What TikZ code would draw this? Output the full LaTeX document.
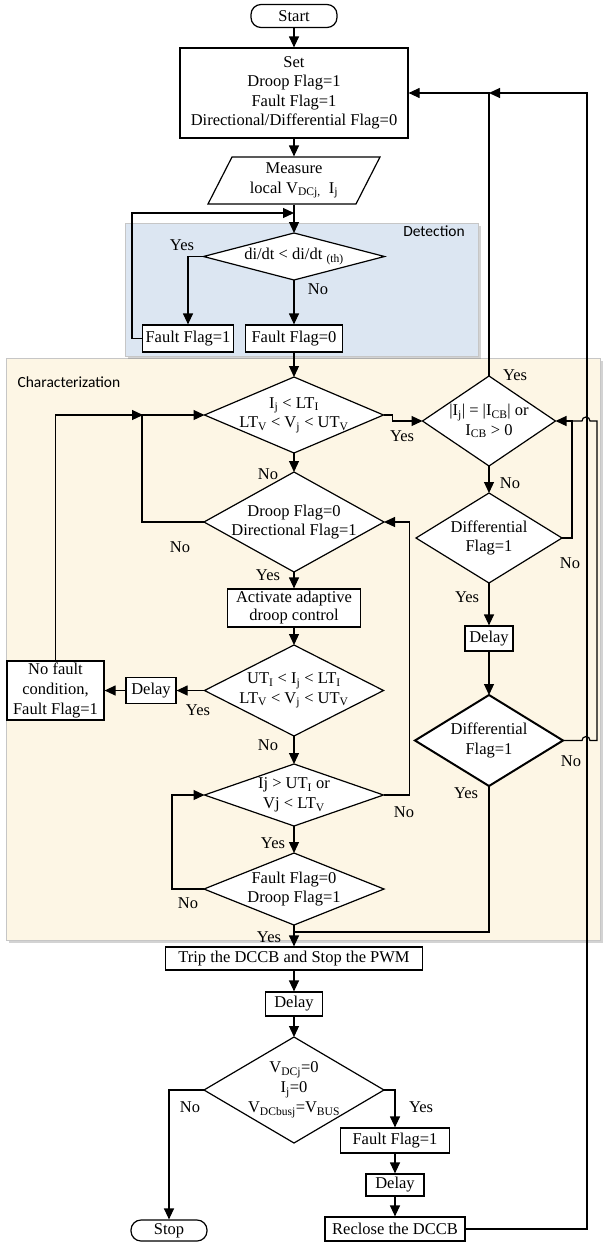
\documentclass[tikz,border=0pt]{standalone}
\usepackage{fontspec}
\setmainfont{Liberation Serif}
\newfontfamily\labelsans{Carlito}
\usetikzlibrary{arrows.meta,shapes.geometric,shadows}
\definecolor{detfill}{RGB}{220,230,242}
\definecolor{charfill}{RGB}{253,246,229}
\newcommand{\sbs}[1]{\textsubscript{#1}}
\begin{document}
\begin{tikzpicture}[x=1pt,y=-1pt,
  font=\fontsize{16.5}{19.5}\selectfont, line width=1.2pt,
  box/.style={draw, fill=white, inner sep=0pt, align=center},
  term/.style={box, rounded corners=10pt},
  dec/.style={diamond, draw, fill=white, inner sep=0pt, outer sep=0pt},
  txt/.style={align=center, inner sep=0pt},
  lab/.style={inner sep=0pt},
  arr/.style={-{Triangle[length=11pt,width=10pt]}},
  panel/.style={draw=gray!45, line width=0.5pt, drop shadow={shadow xshift=3pt, shadow yshift=-3pt, opacity=0.35}}
]
\useasboundingbox (0,0) rectangle (605,1245);
% panels
\path[panel, fill=charfill] (6,358) rectangle (600,940);
\path[panel, fill=detfill] (125,223) rectangle (478,356);
\node[lab, font=\labelsans\fontsize{15.5}{18}\selectfont] (dettitle) at (434,231) {Detection};
\node[lab, font=\labelsans\fontsize{15.5}{18}\selectfont, anchor=west] (chartitle) at (17,382) {Characterization};

% main column
\node[term, minimum width=86pt, minimum height=23pt] (start) at (294,16) {Start};
\node[box, minimum width=228pt, minimum height=90pt] (set) at (294,93) {Set\\Droop Flag=1\\Fault Flag=1\\Directional/Differential Flag=0};
\draw[fill=white] (232,157) -- (380,157) -- (356,204) -- (208,204) -- cycle;
\node[txt, minimum width=148pt, minimum height=47pt] (measure) at (294,180.5) {Measure\\local V\sbs{DCj,}\ \ I\sbs{j}};
\node[dec, minimum width=181pt, minimum height=47pt, label={[txt]center:{di/dt < di/dt \sbs{(th)}}}] (det) at (294,256.5) {};
\node[box, minimum width=91pt, minimum height=27pt] (ff1) at (188,338.5) {Fault Flag=1};
\node[box, minimum width=97pt, minimum height=27pt] (ff0) at (294,338.5) {Fault Flag=0};
\node[dec, minimum width=179pt, minimum height=76pt, label={[txt]center:{I\sbs{j} < LT\sbs{I}\\LT\sbs{V} < V\sbs{j} < UT\sbs{V}}}] (d1) at (294,415) {};
\node[dec, minimum width=180pt, minimum height=100pt, label={[txt]center:{Droop Flag=0\\Directional Flag=1}}] (d2) at (294,522) {};
\node[box, minimum width=133pt, minimum height=38pt, font=\fontsize{16.5}{18}\selectfont] (act) at (294,608) {Activate adaptive\\droop control};
\node[dec, minimum width=179pt, minimum height=91pt, label={[txt]center:{UT\sbs{I} < I\sbs{j} < LT\sbs{I}\\LT\sbs{V} < V\sbs{j} < UT\sbs{V}}}] (d3) at (294,690.5) {};
\node[box, minimum width=50pt, minimum height=26pt] (dl1) at (151,690.5) {Delay};
\node[box, minimum width=97pt, minimum height=59pt, font=\fontsize{16.5}{20}\selectfont] (nf) at (55.5,690.5) {No fault\\condition,\\Fault Flag=1};
\node[dec, minimum width=179pt, minimum height=62pt, label={[txt]center:{Ij > UT\sbs{I} or\\Vj < LT\sbs{V}}}] (d4) at (294,795) {};
\node[dec, minimum width=180pt, minimum height=72pt, label={[txt]center:{Fault Flag=0\\Droop Flag=1}}] (d5) at (294,889) {};
\node[box, minimum width=257pt, minimum height=23pt] (trip) at (294,958.5) {Trip the DCCB and Stop the PWM};
\node[box, minimum width=57pt, minimum height=24pt] (dl2) at (294,1004) {Delay};
\node[dec, minimum width=180pt, minimum height=106pt, label={[txt, font=\fontsize{16.5}{20}\selectfont]center:{V\sbs{DCj}=0\\I\sbs{j}=0\\V\sbs{DCbusj}=V\sbs{BUS}}}] (d6) at (294,1090) {};
\node[term, minimum width=76pt, minimum height=21pt] (stop) at (169,1230.5) {Stop};
\node[box, minimum width=109pt, minimum height=25pt] (ff2) at (395,1140.5) {Fault Flag=1};
\node[box, minimum width=58pt, minimum height=22pt] (dl3) at (395,1185) {Delay};
\node[box, minimum width=140pt, minimum height=24pt] (rec) at (395,1229) {Reclose the DCCB};

% right column
\node[dec, minimum width=133pt, minimum height=90pt, label={[txt]center:{|I\sbs{j}| = |I\sbs{CB}| or\\I\sbs{CB} > 0}}] (d7) at (489,421) {};
\node[dec, minimum width=146pt, minimum height=90pt, label={[txt]center:{Differential\\Flag=1}}] (d8) at (489,538) {};
\node[box, minimum width=48pt, minimum height=25pt] (dl4) at (489,638.5) {Delay};
\node[dec, line width=2pt, minimum width=148pt, minimum height=91pt, label={[txt]center:{Differential\\Flag=1}}] (d9) at (489,740.5) {};

% junction coordinates
\coordinate (j1) at (294,213);
\coordinate (j2) at (143,415);
\coordinate (j3) at (294,932);
\coordinate (j4) at (489,93);

% connectors
\draw[arr] (start) -- (set);
\draw[arr] (set) -- (measure);
\draw[arr] (measure) -- (det);
\draw[arr] (det.west) -| (ff1.north);
\draw[arr] (det.south) -- (ff0.north);
\draw[arr] (ff1.west) -- ++(-10,0) |- (j1);
\draw[arr] (ff0.south) -- (d1.north);
\draw[arr] (d1.east) -- ++(9,0) |- (d7.west);
\draw[arr] (d1.south) -- (d2.north);
\draw[arr] (d2.west) -- ++(-62,0) |- (d1.west);
\draw[arr] (nf.north) |- (j2);
\draw[arr] (d2.south) -- (act.north);
\draw[arr] (act.south) -- (d3.north);
\draw[arr] (d3.west) -- (dl1.east);
\draw[arr] (dl1.west) -- (nf.east);
\draw[arr] (d3.south) -- (d4.north);
\draw[arr] (d4.south) -- (d5.north);
\draw[arr] (d4.east) -- ++(26,0) |- (d2.east);
\draw[arr] (d5.west) -- ++(-32,0) |- (d4.west);
\draw[arr] (d5.south) -- (trip.north);
\draw (d9.south) |- (j3);
\draw[arr] (trip) -- (dl2);
\draw[arr] (dl2) -- (d6);
\draw[arr] (d6.west) -| (stop.north);
\draw[arr] (d6.east) -| (ff2.north);
\draw[arr] (ff2) -- (dl3);
\draw[arr] (dl3) -- (rec);
\draw[arr] (d7.north) |- (set.east);
\draw[arr] (d7.south) -- (d8.north);
\draw[arr] (d8.east) -- ++(10,0) |- (d7.east);
\draw[arr] (d8.south) -- (dl4.north);
\draw[arr] (dl4.south) -- (d9.north);
\draw (d9.east) -- (582,740.5) arc(180:360:4) -- (597,740.5) -- (597,421) -- (590,421) arc(0:-180:4) -- (573,421);
\draw[arr] (rec.east) -| (587,93) -- (j4);

% labels
\node[lab] (y1) at (182,245) {Yes};
\node[lab] (n1) at (318,289) {No};
\node[lab] (n2) at (268,474) {No};
\node[lab] (y2) at (402,436) {Yes};
\node[lab] (n3) at (180,547) {No};
\node[lab] (y3) at (268,575) {Yes};
\node[lab] (y4) at (198,710) {Yes};
\node[lab] (n4) at (268,745) {No};
\node[lab] (n5) at (404,812) {No};
\node[lab] (y5) at (273,843) {Yes};
\node[lab] (n6) at (188,903) {No};
\node[lab] (y6) at (269,937) {Yes};
\node[lab] (y7) at (515,375) {Yes};
\node[lab] (n7) at (510,483) {No};
\node[lab] (n8) at (570,563) {No};
\node[lab] (y8) at (467,597) {Yes};
\node[lab] (n9) at (571,761) {No};
\node[lab] (y9) at (466,793) {Yes};
\node[lab] (n10) at (190,1107) {No};
\node[lab] (y10) at (421,1107) {Yes};
\end{tikzpicture}
\end{document}
